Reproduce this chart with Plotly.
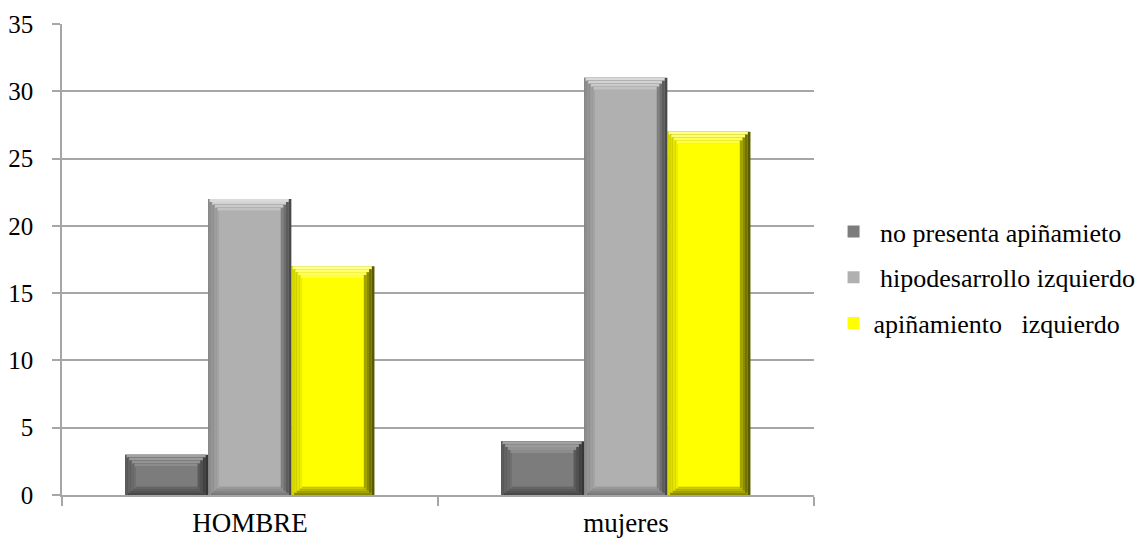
import plotly.graph_objects as go

# Data
categories = ["HOMBRE", "mujeres"]
series_names = ["\u00a0no presenta apiñamieto", "\u00a0hipodesarrollo izquierdo", "apiñamiento\u00a0\u00a0\u00a0izquierdo"]
no_presenta = [3, 4]
hipodesarrollo = [22, 31]
apinamiento = [17, 27]
series_values = [no_presenta, hipodesarrollo, apinamiento]

# Bevel shades per series: face colour, plus (outer, inner) shade of each bevelled side
shades = [
    dict(face="#7c7c7c", top=("#a2a2a2", "#8c8c8c"), left=("#5c5c5c", "#707070"),
         right=("#363636", "#5a5a5a"), bottom=("#484848", "#646464")),
    dict(face="#b0b0b0", top=("#dadada", "#c2c2c2"), left=("#8e8e8e", "#a4a4a4"),
         right=("#4a4a4a", "#808080"), bottom=("#7a7a7a", "#989898")),
    dict(face="#ffff00", top=("#ffff90", "#ffff40"), left=("#d6d600", "#eeee00"),
         right=("#5a5a00", "#a2a200"), bottom=("#8a8a00", "#c4c400")),
]

FONT = "Liberation Serif, Times New Roman, serif"
GRID = "#a6a6a6"

bar_w = 0.221          # bar width in category units
group_start = -0.332   # offset of first bar from category centre
n_steps = 4            # bevel gradient steps
side_step = 0.0072     # side bevel step (category units)
top_step = 0.22        # top bevel step (value units)
bot_step = 0.16        # bottom bevel step (value units)


def hex_rgb(h):
    h = h.lstrip("#")
    return tuple(int(h[k:k + 2], 16) for k in (0, 2, 4))


def blend(pair, t):
    a, b = hex_rgb(pair[0]), hex_rgb(pair[1])
    r = [round(a[k] + (b[k] - a[k]) * t) for k in range(3)]
    return "rgb({},{},{})".format(*r)


fig = go.Figure()

for i, (name, vals, sh) in enumerate(zip(series_names, series_values, shades)):
    off = group_start + i * bar_w
    grp = f"g{i}"
    common = dict(x=categories, legendgroup=grp, hoverinfo="skip",
                  marker_line_width=0, showlegend=False)
    for j in range(n_steps):
        t = j / (n_steps - 1)
        es = j * side_step
        lo = [j * bot_step] * len(vals)
        hi = [v - j * top_step for v in vals]
        span = [h - l for h, l in zip(hi, lo)]
        # right-edge shade over the whole (inset) bar
        fig.add_trace(go.Bar(y=span, base=lo, offset=off + es, width=bar_w - 2 * es,
                             marker_color=blend(sh["right"], t), **common))
        # left-edge shade
        fig.add_trace(go.Bar(y=span, base=lo, offset=off + es,
                             width=bar_w - 2 * es - side_step,
                             marker_color=blend(sh["left"], t), **common))
        # bottom-edge shade
        fig.add_trace(go.Bar(y=[bot_step] * len(vals), base=lo,
                             offset=off + es + side_step,
                             width=bar_w - 2 * es - 2 * side_step,
                             marker_color=blend(sh["bottom"], t), **common))
        # top-edge highlight
        fig.add_trace(go.Bar(y=[top_step] * len(vals), base=[h - top_step for h in hi],
                             offset=off + es + side_step * 0.5,
                             width=bar_w - 2 * es - side_step * 1.5,
                             marker_color=blend(sh["top"], t), **common))
    # face
    es = n_steps * side_step
    fig.add_trace(go.Bar(
        x=categories,
        y=[v - n_steps * (top_step + bot_step) for v in vals],
        base=[n_steps * bot_step] * len(vals),
        offset=off + es, width=bar_w - 2 * es,
        marker_color=sh["face"], marker_line_width=0,
        name=name, legendgroup=grp, showlegend=True, hoverinfo="skip",
    ))

fig.update_layout(
    width=1145,
    height=539,
    barmode="overlay",
    paper_bgcolor="white",
    plot_bgcolor="white",
    margin=dict(l=62, r=331, t=24, b=44),
    font=dict(family=FONT, size=26, color="black"),
    showlegend=True,
    legend=dict(
        xref="container", yref="container",
        x=0.728, y=0.485, xanchor="left", yanchor="middle",
        traceorder="grouped", tracegroupgap=9,
        font=dict(family=FONT, size=26, color="black"),
        bgcolor="rgba(0,0,0,0)", borderwidth=0,
    ),
    xaxis=dict(
        type="category",
        automargin=False,
        showgrid=False,
        showline=True, linecolor=GRID, linewidth=1.5,
        ticks="outside", tickson="boundaries", ticklen=9, tickcolor=GRID, tickwidth=1.5,
        tickfont=dict(family=FONT, size=27, color="black"),
        ticklabelstandoff=3,
        range=[-0.5, 1.5],
        zeroline=False,
    ),
    yaxis=dict(
        automargin=False,
        range=[0, 35],
        dtick=5,
        showgrid=True, gridcolor=GRID, gridwidth=1.5,
        showline=True, linecolor=GRID, linewidth=1.5,
        ticks="outside", ticklen=8, tickcolor=GRID, tickwidth=1.5,
        tickfont=dict(family=FONT, size=25, color="black"),
        ticklabelstandoff=14,
        zeroline=False,
    ),
)

fig.write_html("out.html")
